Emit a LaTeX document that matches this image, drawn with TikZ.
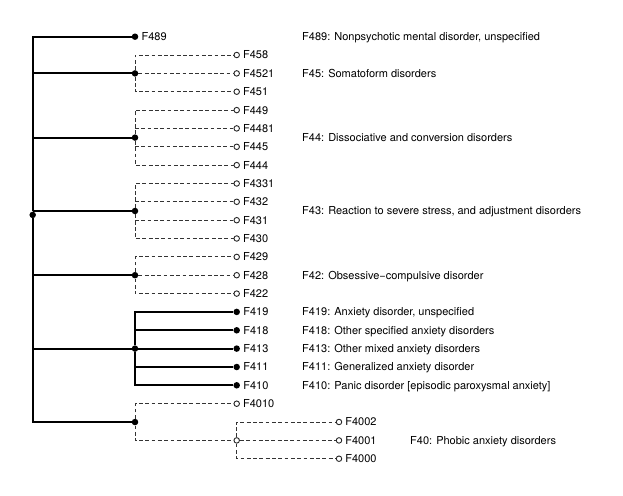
\documentclass[tikz,border=0pt]{standalone}
\usepackage{fontspec}
\setmainfont{TeX Gyre Heros}
\usetikzlibrary{positioning}

\tikzset{
  branch/.style={line width=2pt, black},
  dashbranch/.style={line width=0.9pt, black!80, dash pattern=on 3.8pt off 2.5pt},
  fdot/.style={circle, fill=black, inner sep=0pt, minimum size=6.5pt},
  odot/.style={circle, draw=black!85, line width=0.9pt, fill=white, inner sep=0pt, minimum size=5.5pt},
  code/.style={font=\fontsize{11}{13}\selectfont, inner sep=0pt, text height=7.9pt, text depth=0pt},
  desc/.style={code, anchor=west},
}

\begin{document}
\begin{tikzpicture}[x=1pt, y=-1pt]
  \useasboundingbox (0,0) rectangle (623,495);

  % root and group junctions
  \node[fdot] (root) at (32.7,214.9) {};
  \node[fdot] (g45) at (135,73.4) {};
  \node[fdot] (g44) at (135,137.6) {};
  \node[fdot] (g43) at (135,211.0) {};
  \node[fdot] (g42) at (135,275.2) {};
  \node[fdot] (g41) at (135,348.6) {};
  \node[fdot] (g40) at (135,422.05) {};
  \node[odot] (g400) at (236.7,440.4) {};

  % leaves
  \node[fdot] (l489) at (135,36.7) {};
  \foreach \n/\y in {458/55.0, 4521/73.4, 451/91.7, 449/110.1, 4481/128.4, 445/146.8, 444/165.1,
      4331/183.5, 432/201.8, 431/220.2, 430/238.5, 429/256.9, 428/275.2, 422/293.6, 4010/403.7}
    \node[odot] (l\n) at (236.7,\y) {};
  \foreach \n/\y in {419/311.9, 418/330.3, 413/348.6, 411/367.0, 410/385.3}
    \node[fdot] (l\n) at (236.7,\y) {};
  \foreach \n/\y in {4002/422.0, 4001/440.4, 4000/458.7}
    \node[odot] (l\n) at (339,\y) {};

  % leaf codes
  \foreach \n in {489,458,4521,451,449,4481,445,444,4331,432,431,430,429,428,422,
      419,418,413,411,410,4010,4002,4001,4000}
    \node[code, right=3pt of l\n] (c\n) {F\n};

  % solid backbone
  \draw[branch] (l489) -| (root) |- (g40);
  \foreach \g in {45,44,43,42,41}
    \draw[branch] (g\g -| root) -- (g\g);

  % F41: solid group
  \draw[branch] (g41) |- (l419);
  \draw[branch] (g41) |- (l410);
  \draw[branch] (g41) -- (l413);
  \draw[branch] (l418 -| g41) -- (l418);
  \draw[branch] (l411 -| g41) -- (l411);

  % dashed groups
  \draw[dashbranch] (g45) |- (l458);
  \draw[dashbranch] (g45) |- (l451);
  \draw[dashbranch] (g45) -- (l4521);
  \draw[dashbranch] (g44) |- (l449);
  \draw[dashbranch] (g44) |- (l444);
  \draw[dashbranch] (l4481 -| g44) -- (l4481);
  \draw[dashbranch] (l445 -| g44) -- (l445);
  \draw[dashbranch] (g43) |- (l4331);
  \draw[dashbranch] (g43) |- (l430);
  \draw[dashbranch] (l432 -| g43) -- (l432);
  \draw[dashbranch] (l431 -| g43) -- (l431);
  \draw[dashbranch] (g42) |- (l429);
  \draw[dashbranch] (g42) |- (l422);
  \draw[dashbranch] (g42) -- (l428);
  \draw[dashbranch] (g40) |- (l4010);
  \draw[dashbranch] (g40) |- (g400);
  \draw[dashbranch] (g400) |- (l4002);
  \draw[dashbranch] (g400) |- (l4000);
  \draw[dashbranch] (g400) -- (l4001);

  % descriptions
  \node[desc] (d489) at (302,36.7) {F489: Nonpsychotic mental disorder, unspecified};
  \node[desc] (d45) at (302,73.4) {F45: Somatoform disorders};
  \node[desc] (d44) at (302,137.6) {F44: Dissociative and conversion disorders};
  \node[desc] (d43) at (302,211.0) {F43: Reaction to severe stress, and adjustment disorders};
  \node[desc] (d42) at (302,275.2) {F42: Obsessive−compulsive disorder};
  \node[desc] (d419) at (302,311.9) {F419: Anxiety disorder, unspecified};
  \node[desc] (d418) at (302,330.3) {F418: Other specified anxiety disorders};
  \node[desc] (d413) at (302,348.6) {F413: Other mixed anxiety disorders};
  \node[desc] (d411) at (302,367.0) {F411: Generalized anxiety disorder};
  \node[desc] (d410) at (302,385.3) {F410: Panic disorder [episodic paroxysmal anxiety]};
  \node[desc] (d40) at (410,440.4) {F40: Phobic anxiety disorders};
\end{tikzpicture}
\end{document}
